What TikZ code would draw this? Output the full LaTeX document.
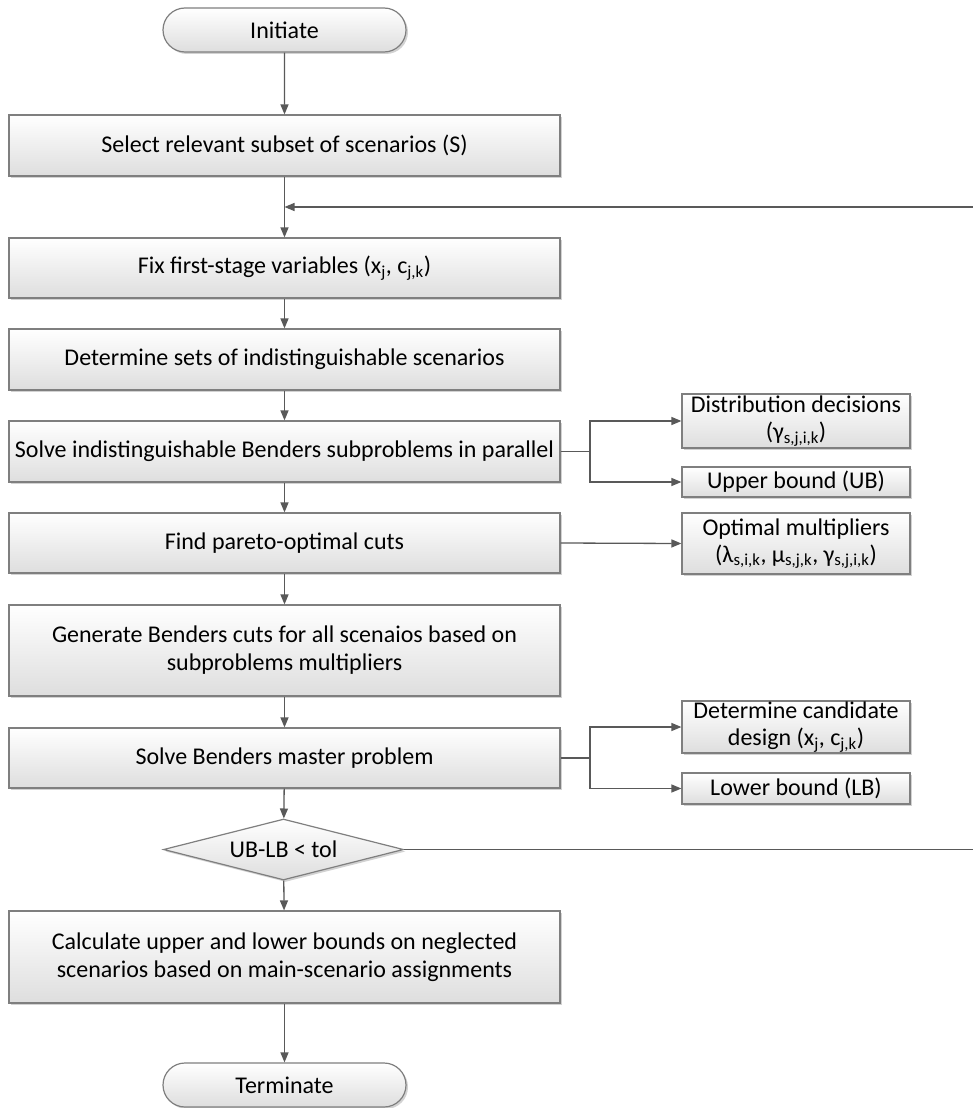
\documentclass[tikz,border=0pt]{standalone}
\usepackage{fontspec}
\setmainfont{Carlito}
\usetikzlibrary{shapes.geometric,shapes.misc,shadows,arrows.meta}
\definecolor{boxline}{HTML}{7F7F7F}
\definecolor{conn}{HTML}{595959}
\newcommand{\lowidx}[1]{\textsubscript{#1}}
\tikzset{
  basebox/.style={draw=boxline, line width=1.2pt, top color=white, bottom color=black!13,
    drop shadow={shadow xshift=2pt, shadow yshift=-2pt, opacity=0.35},
    align=center, inner sep=0pt, font=\fontsize{24}{28}\selectfont},
  mainbox/.style={basebox, rectangle, minimum width=551pt},
  sidebox/.style={basebox, rectangle, minimum width=228pt, font=\fontsize{24}{27}\selectfont},
  termbox/.style={basebox, rounded rectangle, minimum width=243pt, minimum height=44pt},
  decbox/.style={basebox, diamond, aspect=4, minimum width=240pt, minimum height=61pt},
  conline/.style={draw=conn, line width=1.3pt},
  arr/.style={conline, -{Triangle[length=10pt,width=8pt]}}
}
\begin{document}
\begin{tikzpicture}[x=1pt,y=-1pt]
\useasboundingbox (0,0) rectangle (973,1108);
\fill[white] (0,0) rectangle (973,1108);
\node[termbox] (init) at (284.5,30) {Initiate};
\node[mainbox, minimum height=61pt] (sel) at (284.5,145.5) {Select relevant subset of scenarios (S)};
\node[mainbox, minimum height=60pt] (fix) at (284.5,268) {Fix first-stage variables (x\lowidx{j}, c\lowidx{j,k})};
\node[mainbox, minimum height=61pt] (det) at (284.5,359.5) {Determine sets of indistinguishable scenarios};
\node[mainbox, minimum height=61pt] (solve) at (284.5,451.5) {Solve indistinguishable Benders subproblems in parallel};
\node[mainbox, minimum height=60pt] (find) at (284.5,543) {Find pareto-optimal cuts};
\node[mainbox, minimum height=91pt] (gen) at (284.5,650.5) {Generate Benders cuts for all scenaios based on\\subproblems multipliers};
\node[mainbox, minimum height=60pt] (master) at (284.5,758) {Solve Benders master problem};
\node[decbox] (dec) at (283.5,849.5) {UB-LB {\char`\<} tol};
\node[mainbox, minimum height=92pt] (calc) at (284.5,957) {Calculate upper and lower bounds on neglected\\scenarios based on main-scenario assignments};
\node[termbox] (term) at (284.5,1085) {Terminate};

\node[sidebox, minimum height=54pt] (dist) at (796,421) {Distribution decisions\\(γ\lowidx{s,j,i,k})};
\node[sidebox, minimum height=30pt] (ub) at (796,482) {Upper bound (UB)};
\node[sidebox, minimum height=61pt] (opt) at (796,543.5) {Optimal multipliers\\(λ\lowidx{s,i,k}, μ\lowidx{s,j,k}, γ\lowidx{s,j,i,k})};
\node[sidebox, minimum height=52pt] (cand) at (796,727) {Determine candidate\\design (x\lowidx{j}, c\lowidx{j,k})};
\node[sidebox, minimum height=31pt] (lb) at (796,788.5) {Lower bound (LB)};

\coordinate (j1) at (590,451.5);
\coordinate (j2) at (590,758);
\coordinate (rc) at (974,849.5);
\coordinate (loopin) at (284.5,207);

\draw[arr] (init) -- (sel);
\draw[arr] (sel) -- (fix);
\draw[arr] (fix) -- (det);
\draw[arr] (det) -- (solve);
\draw[arr] (solve) -- (find);
\draw[arr] (find) -- (gen);
\draw[arr] (gen) -- (master);
\draw[arr] (master) -- (dec);
\draw[arr] (dec) -- (calc);
\draw[arr] (calc) -- (term);

\draw[conline] (solve.east) -- (j1);
\draw[arr] (j1) |- (dist.west);
\draw[arr] (j1) |- (ub.west);
\draw[arr] (find.east) -- (opt.west);
\draw[conline] (master.east) -- (j2);
\draw[arr] (j2) |- (cand.west);
\draw[arr] (j2) |- (lb.west);

\draw[arr] (dec.east) -- (rc) |- (loopin);
\end{tikzpicture}
\end{document}
